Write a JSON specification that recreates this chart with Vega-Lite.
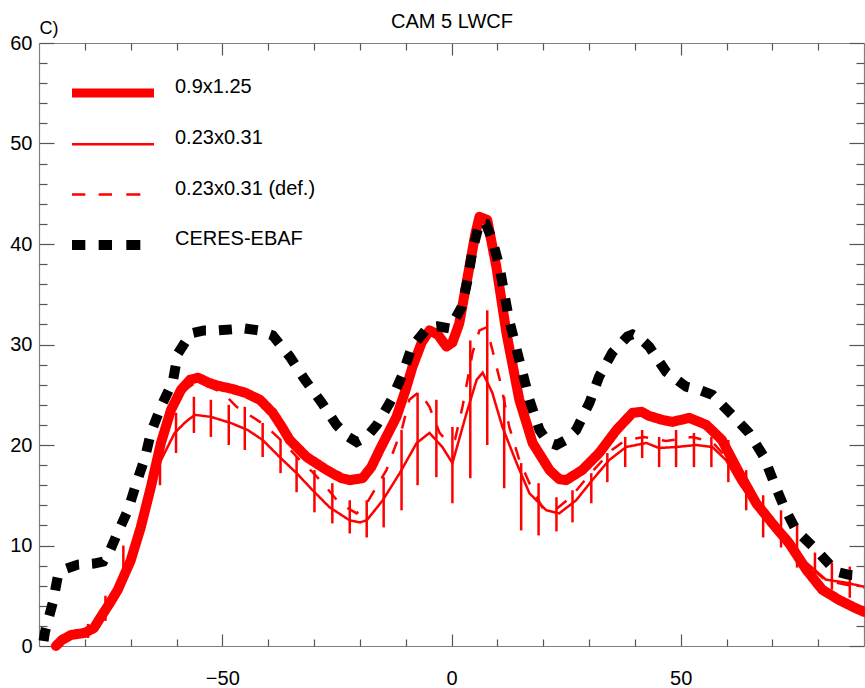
{
  "$schema": "https://vega.github.io/schema/vega-lite/v6.json",
  "width": 825,
  "height": 603,
  "autosize": {"type": "none"},
  "padding": {"left": 39, "top": 43, "right": 1, "bottom": 42},
  "background": "white",
  "config": {
    "view": {"stroke": null},
    "font": "Liberation Sans",
    "axis": {"grid": false, "domainColor": "#808080", "tickColor": "#555555", "domainWidth": 1.2, "tickWidth": 1.2, "title": null, "labelFont": "Liberation Sans", "labelColor": "black"}
  },
  "datasets": {
    "thick": [
      {"series":"0.9x1.25","lat":-86.3,"v":0.0},{"series":"0.9x1.25","lat":-85,"v":0.6},{"series":"0.9x1.25","lat":-83,"v":1.1},{"series":"0.9x1.25","lat":-80,"v":1.3},{"series":"0.9x1.25","lat":-78,"v":1.8},{"series":"0.9x1.25","lat":-76.5,"v":2.9},{"series":"0.9x1.25","lat":-74.5,"v":4.3},{"series":"0.9x1.25","lat":-72.8,"v":5.6},{"series":"0.9x1.25","lat":-70,"v":8.5},{"series":"0.9x1.25","lat":-67.8,"v":11.8},{"series":"0.9x1.25","lat":-65.6,"v":15.8},{"series":"0.9x1.25","lat":-63.4,"v":20.2},{"series":"0.9x1.25","lat":-61.2,"v":23.5},{"series":"0.9x1.25","lat":-59,"v":25.5},{"series":"0.9x1.25","lat":-57,"v":26.5},{"series":"0.9x1.25","lat":-55.3,"v":26.7},{"series":"0.9x1.25","lat":-53,"v":26.2},{"series":"0.9x1.25","lat":-51,"v":25.9},{"series":"0.9x1.25","lat":-48,"v":25.6},{"series":"0.9x1.25","lat":-45,"v":25.2},{"series":"0.9x1.25","lat":-41.8,"v":24.5},{"series":"0.9x1.25","lat":-39,"v":23.2},{"series":"0.9x1.25","lat":-37,"v":21.8},{"series":"0.9x1.25","lat":-35.3,"v":20.5},{"series":"0.9x1.25","lat":-31.6,"v":18.8},{"series":"0.9x1.25","lat":-27.2,"v":17.5},{"series":"0.9x1.25","lat":-24,"v":16.7},{"series":"0.9x1.25","lat":-22.2,"v":16.5},{"series":"0.9x1.25","lat":-19.4,"v":16.7},{"series":"0.9x1.25","lat":-17.5,"v":17.8},{"series":"0.9x1.25","lat":-15.7,"v":19.5},{"series":"0.9x1.25","lat":-12,"v":22.8},{"series":"0.9x1.25","lat":-10,"v":25.5},{"series":"0.9x1.25","lat":-8.5,"v":27.8},{"series":"0.9x1.25","lat":-6.5,"v":30.2},{"series":"0.9x1.25","lat":-4.8,"v":31.4},{"series":"0.9x1.25","lat":-3,"v":31.0},{"series":"0.9x1.25","lat":-1.1,"v":29.8},{"series":"0.9x1.25","lat":0.2,"v":30.2},{"series":"0.9x1.25","lat":1.7,"v":32.1},{"series":"0.9x1.25","lat":3.9,"v":37.7},{"series":"0.9x1.25","lat":5.2,"v":41.0},{"series":"0.9x1.25","lat":6.1,"v":42.7},{"series":"0.9x1.25","lat":7.8,"v":42.4},{"series":"0.9x1.25","lat":9.8,"v":37.7},{"series":"0.9x1.25","lat":12,"v":31.1},{"series":"0.9x1.25","lat":14.8,"v":24.5},{"series":"0.9x1.25","lat":17.7,"v":20.2},{"series":"0.9x1.25","lat":21.4,"v":17.5},{"series":"0.9x1.25","lat":23.5,"v":16.6},{"series":"0.9x1.25","lat":25,"v":16.5},{"series":"0.9x1.25","lat":28.5,"v":17.5},{"series":"0.9x1.25","lat":32.2,"v":19.2},{"series":"0.9x1.25","lat":36,"v":21.5},{"series":"0.9x1.25","lat":39.5,"v":23.2},{"series":"0.9x1.25","lat":41.5,"v":23.3},{"series":"0.9x1.25","lat":43.1,"v":22.9},{"series":"0.9x1.25","lat":46,"v":22.5},{"series":"0.9x1.25","lat":48.2,"v":22.3},{"series":"0.9x1.25","lat":51.9,"v":22.7},{"series":"0.9x1.25","lat":55.6,"v":22.0},{"series":"0.9x1.25","lat":59,"v":20.5},{"series":"0.9x1.25","lat":62.8,"v":17.2},{"series":"0.9x1.25","lat":66.5,"v":14.2},{"series":"0.9x1.25","lat":70,"v":12.2},{"series":"0.9x1.25","lat":73.7,"v":10.2},{"series":"0.9x1.25","lat":77.4,"v":7.6},{"series":"0.9x1.25","lat":80.9,"v":5.6},{"series":"0.9x1.25","lat":84.5,"v":4.6},{"series":"0.9x1.25","lat":88,"v":3.8},{"series":"0.9x1.25","lat":90,"v":3.4}
    ],
    "thin": [
      {"series":"0.23x0.31","lat":-86.3,"v":0.0},{"series":"0.23x0.31","lat":-83,"v":1.1},{"series":"0.23x0.31","lat":-80,"v":1.3},{"series":"0.23x0.31","lat":-76.5,"v":2.9},{"series":"0.23x0.31","lat":-72.8,"v":5.6},{"series":"0.23x0.31","lat":-70,"v":8.5},{"series":"0.23x0.31","lat":-67.8,"v":11.8},{"series":"0.23x0.31","lat":-65.6,"v":15.6},{"series":"0.23x0.31","lat":-63.6,"v":18.3},{"series":"0.23x0.31","lat":-60.4,"v":21.2},{"series":"0.23x0.31","lat":-58,"v":22.3},{"series":"0.23x0.31","lat":-56,"v":23.0},{"series":"0.23x0.31","lat":-52.5,"v":22.8},{"series":"0.23x0.31","lat":-48.2,"v":22.2},{"series":"0.23x0.31","lat":-44.5,"v":21.5},{"series":"0.23x0.31","lat":-41.2,"v":20.5},{"series":"0.23x0.31","lat":-37.5,"v":18.8},{"series":"0.23x0.31","lat":-33.8,"v":17.2},{"series":"0.23x0.31","lat":-30.3,"v":15.5},{"series":"0.23x0.31","lat":-26.6,"v":13.8},{"series":"0.23x0.31","lat":-22.2,"v":12.5},{"series":"0.23x0.31","lat":-20,"v":12.3},{"series":"0.23x0.31","lat":-18.5,"v":12.5},{"series":"0.23x0.31","lat":-15,"v":14.5},{"series":"0.23x0.31","lat":-11.3,"v":17.2},{"series":"0.23x0.31","lat":-7.6,"v":20.2},{"series":"0.23x0.31","lat":-4.8,"v":21.2},{"series":"0.23x0.31","lat":-2,"v":19.8},{"series":"0.23x0.31","lat":0.2,"v":18.2},{"series":"0.23x0.31","lat":3.3,"v":23.2},{"series":"0.23x0.31","lat":5.5,"v":26.5},{"series":"0.23x0.31","lat":6.8,"v":27.2},{"series":"0.23x0.31","lat":8.9,"v":25.2},{"series":"0.23x0.31","lat":11.1,"v":21.8},{"series":"0.23x0.31","lat":14.2,"v":18.2},{"series":"0.23x0.31","lat":17,"v":15.2},{"series":"0.23x0.31","lat":20.7,"v":13.5},{"series":"0.23x0.31","lat":23.5,"v":13.2},{"series":"0.23x0.31","lat":27.2,"v":14.5},{"series":"0.23x0.31","lat":30.7,"v":16.5},{"series":"0.23x0.31","lat":34.4,"v":18.5},{"series":"0.23x0.31","lat":38.1,"v":19.8},{"series":"0.23x0.31","lat":42.5,"v":20.2},{"series":"0.23x0.31","lat":45.3,"v":19.7},{"series":"0.23x0.31","lat":49,"v":19.8},{"series":"0.23x0.31","lat":53.4,"v":20.0},{"series":"0.23x0.31","lat":56.9,"v":19.8},{"series":"0.23x0.31","lat":59.9,"v":18.5},{"series":"0.23x0.31","lat":62.8,"v":16.2},{"series":"0.23x0.31","lat":66.5,"v":13.8},{"series":"0.23x0.31","lat":70,"v":12.5},{"series":"0.23x0.31","lat":73.7,"v":10.8},{"series":"0.23x0.31","lat":77.4,"v":8.3},{"series":"0.23x0.31","lat":81.7,"v":6.6},{"series":"0.23x0.31","lat":86.1,"v":6.3},{"series":"0.23x0.31","lat":90,"v":5.9}
    ],
    "def": [
      {"series":"0.23x0.31 (def.)","lat":-86.3,"v":0.0},{"series":"0.23x0.31 (def.)","lat":-83,"v":1.1},{"series":"0.23x0.31 (def.)","lat":-80,"v":1.3},{"series":"0.23x0.31 (def.)","lat":-76.5,"v":2.9},{"series":"0.23x0.31 (def.)","lat":-72.8,"v":5.6},{"series":"0.23x0.31 (def.)","lat":-70,"v":8.5},{"series":"0.23x0.31 (def.)","lat":-67.8,"v":11.8},{"series":"0.23x0.31 (def.)","lat":-65.6,"v":15.8},{"series":"0.23x0.31 (def.)","lat":-63.4,"v":20.0},{"series":"0.23x0.31 (def.)","lat":-61.2,"v":23.2},{"series":"0.23x0.31 (def.)","lat":-59,"v":25.2},{"series":"0.23x0.31 (def.)","lat":-55.6,"v":26.3},{"series":"0.23x0.31 (def.)","lat":-52,"v":25.6},{"series":"0.23x0.31 (def.)","lat":-49.9,"v":25.2},{"series":"0.23x0.31 (def.)","lat":-46.9,"v":23.8},{"series":"0.23x0.31 (def.)","lat":-41.8,"v":22.3},{"series":"0.23x0.31 (def.)","lat":-40.3,"v":21.8},{"series":"0.23x0.31 (def.)","lat":-36.8,"v":20.3},{"series":"0.23x0.31 (def.)","lat":-33.1,"v":18.5},{"series":"0.23x0.31 (def.)","lat":-30.3,"v":17.3},{"series":"0.23x0.31 (def.)","lat":-28.1,"v":16.2},{"series":"0.23x0.31 (def.)","lat":-24.4,"v":14.2},{"series":"0.23x0.31 (def.)","lat":-20.7,"v":13.2},{"series":"0.23x0.31 (def.)","lat":-18.5,"v":14.2},{"series":"0.23x0.31 (def.)","lat":-14.2,"v":17.5},{"series":"0.23x0.31 (def.)","lat":-10.7,"v":21.8},{"series":"0.23x0.31 (def.)","lat":-9.2,"v":24.5},{"series":"0.23x0.31 (def.)","lat":-7,"v":25.3},{"series":"0.23x0.31 (def.)","lat":-4.8,"v":23.8},{"series":"0.23x0.31 (def.)","lat":-2.6,"v":21.2},{"series":"0.23x0.31 (def.)","lat":-0.8,"v":20.3},{"series":"0.23x0.31 (def.)","lat":0.8,"v":20.6},{"series":"0.23x0.31 (def.)","lat":2.4,"v":23.8},{"series":"0.23x0.31 (def.)","lat":4.6,"v":29.2},{"series":"0.23x0.31 (def.)","lat":6.1,"v":31.4},{"series":"0.23x0.31 (def.)","lat":7.6,"v":31.7},{"series":"0.23x0.31 (def.)","lat":8.9,"v":29.5},{"series":"0.23x0.31 (def.)","lat":10.9,"v":25.8},{"series":"0.23x0.31 (def.)","lat":12.6,"v":21.8},{"series":"0.23x0.31 (def.)","lat":14.8,"v":18.5},{"series":"0.23x0.31 (def.)","lat":17,"v":16.2},{"series":"0.23x0.31 (def.)","lat":19.8,"v":13.8},{"series":"0.23x0.31 (def.)","lat":22.5,"v":13.5},{"series":"0.23x0.31 (def.)","lat":26,"v":14.8},{"series":"0.23x0.31 (def.)","lat":30,"v":17.0},{"series":"0.23x0.31 (def.)","lat":35,"v":19.5},{"series":"0.23x0.31 (def.)","lat":38,"v":20.5},{"series":"0.23x0.31 (def.)","lat":42,"v":20.8},{"series":"0.23x0.31 (def.)","lat":46.8,"v":20.4},{"series":"0.23x0.31 (def.)","lat":52.5,"v":20.8},{"series":"0.23x0.31 (def.)","lat":56.9,"v":20.3},{"series":"0.23x0.31 (def.)","lat":59.9,"v":18.8},{"series":"0.23x0.31 (def.)","lat":62.8,"v":16.5},{"series":"0.23x0.31 (def.)","lat":66.5,"v":14.0},{"series":"0.23x0.31 (def.)","lat":70,"v":12.5},{"series":"0.23x0.31 (def.)","lat":73.7,"v":10.6},{"series":"0.23x0.31 (def.)","lat":77.4,"v":8.2},{"series":"0.23x0.31 (def.)","lat":81.7,"v":6.5},{"series":"0.23x0.31 (def.)","lat":86.1,"v":6.1},{"series":"0.23x0.31 (def.)","lat":90,"v":5.8}
    ],
    "ceres": [
      {"series":"CERES-EBAF","lat":-89,"v":0.5},{"series":"CERES-EBAF","lat":-88.7,"v":1.4},{"series":"CERES-EBAF","lat":-87,"v":4.3},{"series":"CERES-EBAF","lat":-85.9,"v":6.9},{"series":"CERES-EBAF","lat":-84,"v":7.7},{"series":"CERES-EBAF","lat":-81.5,"v":8.1},{"series":"CERES-EBAF","lat":-78,"v":8.2},{"series":"CERES-EBAF","lat":-76,"v":8.4},{"series":"CERES-EBAF","lat":-74.5,"v":9.5},{"series":"CERES-EBAF","lat":-73.2,"v":10.9},{"series":"CERES-EBAF","lat":-70.6,"v":13.5},{"series":"CERES-EBAF","lat":-68.9,"v":16.0},{"series":"CERES-EBAF","lat":-66.9,"v":18.7},{"series":"CERES-EBAF","lat":-65.6,"v":21.2},{"series":"CERES-EBAF","lat":-63.4,"v":23.8},{"series":"CERES-EBAF","lat":-60.8,"v":26.3},{"series":"CERES-EBAF","lat":-59.7,"v":29.1},{"series":"CERES-EBAF","lat":-56.9,"v":31.1},{"series":"CERES-EBAF","lat":-54,"v":31.4},{"series":"CERES-EBAF","lat":-51,"v":31.4},{"series":"CERES-EBAF","lat":-45.1,"v":31.6},{"series":"CERES-EBAF","lat":-42,"v":31.4},{"series":"CERES-EBAF","lat":-39,"v":30.9},{"series":"CERES-EBAF","lat":-35.3,"v":28.8},{"series":"CERES-EBAF","lat":-32,"v":26.5},{"series":"CERES-EBAF","lat":-28.3,"v":24.2},{"series":"CERES-EBAF","lat":-25.1,"v":22.0},{"series":"CERES-EBAF","lat":-22.5,"v":20.8},{"series":"CERES-EBAF","lat":-20.7,"v":20.3},{"series":"CERES-EBAF","lat":-18.5,"v":20.8},{"series":"CERES-EBAF","lat":-16.3,"v":22.0},{"series":"CERES-EBAF","lat":-13.1,"v":24.5},{"series":"CERES-EBAF","lat":-10.7,"v":27.0},{"series":"CERES-EBAF","lat":-8.7,"v":29.7},{"series":"CERES-EBAF","lat":-5.2,"v":31.7},{"series":"CERES-EBAF","lat":-3,"v":31.8},{"series":"CERES-EBAF","lat":-0.4,"v":31.6},{"series":"CERES-EBAF","lat":2.2,"v":33.7},{"series":"CERES-EBAF","lat":3.5,"v":36.4},{"series":"CERES-EBAF","lat":4.6,"v":39.4},{"series":"CERES-EBAF","lat":6.1,"v":42.1},{"series":"CERES-EBAF","lat":7.5,"v":42.0},{"series":"CERES-EBAF","lat":8.9,"v":40.4},{"series":"CERES-EBAF","lat":10.5,"v":37.7},{"series":"CERES-EBAF","lat":11.5,"v":35.1},{"series":"CERES-EBAF","lat":12.6,"v":32.4},{"series":"CERES-EBAF","lat":14.2,"v":29.5},{"series":"CERES-EBAF","lat":15.5,"v":27.2},{"series":"CERES-EBAF","lat":17,"v":24.5},{"series":"CERES-EBAF","lat":19.2,"v":21.5},{"series":"CERES-EBAF","lat":21,"v":20.3},{"series":"CERES-EBAF","lat":22.9,"v":20.0},{"series":"CERES-EBAF","lat":25,"v":20.5},{"series":"CERES-EBAF","lat":27.2,"v":21.5},{"series":"CERES-EBAF","lat":30.1,"v":24.2},{"series":"CERES-EBAF","lat":32.2,"v":26.8},{"series":"CERES-EBAF","lat":35.1,"v":29.2},{"series":"CERES-EBAF","lat":38.4,"v":30.8},{"series":"CERES-EBAF","lat":39.5,"v":31.0},{"series":"CERES-EBAF","lat":41,"v":30.7},{"series":"CERES-EBAF","lat":43.1,"v":29.8},{"series":"CERES-EBAF","lat":46.8,"v":27.3},{"series":"CERES-EBAF","lat":51.2,"v":25.8},{"series":"CERES-EBAF","lat":54,"v":25.5},{"series":"CERES-EBAF","lat":56.9,"v":25.0},{"series":"CERES-EBAF","lat":61.2,"v":23.0},{"series":"CERES-EBAF","lat":64.9,"v":21.2},{"series":"CERES-EBAF","lat":68.2,"v":18.8},{"series":"CERES-EBAF","lat":70.4,"v":16.2},{"series":"CERES-EBAF","lat":72.6,"v":13.8},{"series":"CERES-EBAF","lat":75.2,"v":11.5},{"series":"CERES-EBAF","lat":79.5,"v":9.6},{"series":"CERES-EBAF","lat":83.9,"v":7.4},{"series":"CERES-EBAF","lat":86.5,"v":7.1},{"series":"CERES-EBAF","lat":90,"v":7.0}
    ],
    "bars": [
      {"lat":-79.3,"lo":0.8,"hi":2.2},{"lat":-75.5,"lo":2.5,"hi":5.0},{"lat":-71.6,"lo":6.0,"hi":10.0},{"lat":-67.8,"lo":10.5,"hi":13.0},{"lat":-63.6,"lo":16.0,"hi":20.0},{"lat":-60.1,"lo":19.2,"hi":23.2},{"lat":-56.2,"lo":21.2,"hi":24.8},{"lat":-52.5,"lo":20.8,"hi":24.5},{"lat":-48.6,"lo":20.0,"hi":24.0},{"lat":-45.1,"lo":19.5,"hi":23.8},{"lat":-41.2,"lo":18.8,"hi":22.2},{"lat":-37.3,"lo":17.2,"hi":20.5},{"lat":-33.8,"lo":15.3,"hi":18.8},{"lat":-29.9,"lo":13.3,"hi":17.5},{"lat":-26,"lo":12.2,"hi":16.2},{"lat":-22.2,"lo":11.2,"hi":14.5},{"lat":-18.5,"lo":10.8,"hi":14.5},{"lat":-14.8,"lo":11.8,"hi":16.8},{"lat":-10.9,"lo":13.5,"hi":21.5},{"lat":-7.4,"lo":16.0,"hi":25.2},{"lat":-3.3,"lo":16.8,"hi":24.5},{"lat":0.2,"lo":14.2,"hi":21.8},{"lat":4.1,"lo":16.7,"hi":30.4},{"lat":7.8,"lo":20.0,"hi":33.4},{"lat":11.5,"lo":15.7,"hi":24.8},{"lat":15.2,"lo":11.5,"hi":18.2},{"lat":19,"lo":11.0,"hi":16.2},{"lat":22.9,"lo":11.4,"hi":14.8},{"lat":26.4,"lo":12.3,"hi":15.5},{"lat":30.5,"lo":14.2,"hi":17.2},{"lat":34,"lo":16.3,"hi":19.2},{"lat":37.9,"lo":17.8,"hi":20.8},{"lat":41.6,"lo":18.7,"hi":21.5},{"lat":45.3,"lo":17.8,"hi":20.8},{"lat":49,"lo":17.8,"hi":21.5},{"lat":52.9,"lo":17.8,"hi":21.2},{"lat":56.7,"lo":17.8,"hi":20.8},{"lat":60.4,"lo":16.3,"hi":20.5},{"lat":64.3,"lo":13.5,"hi":17.5},{"lat":68,"lo":10.8,"hi":15.0},{"lat":71.9,"lo":9.8,"hi":13.5},{"lat":75.4,"lo":7.8,"hi":12.2},{"lat":79.3,"lo":5.9,"hi":9.3},{"lat":83,"lo":5.6,"hi":8.3},{"lat":86.9,"lo":4.8,"hi":7.9}
    ]
  },
  "resolve": {"axis": {"x": "independent", "y": "independent"}},
  "layer": [
    {
      "data": {"name": "thick"},
      "mark": {"type": "line", "strokeJoin": "round", "strokeCap": "round", "strokeWidth": 10},
      "encoding": {
        "x": {"field": "lat", "type": "quantitative", "scale": {"domain": [-90, 90], "nice": false, "zero": false},
              "axis": {"orient": "bottom", "values": [-50, 0, 50], "tickSize": -12, "labelPadding": 34, "labelFontSize": 20, "labelBaseline": "top", "domain": true}},
        "y": {"field": "v", "type": "quantitative", "scale": {"domain": [0, 60], "nice": false},
              "axis": {"orient": "left", "values": [0, 10, 20, 30, 40, 50, 60], "tickSize": -15, "labelPadding": 22, "labelFontSize": 20, "domain": true,
                       "title": "C)", "titleAngle": 0, "titleAlign": "left", "titleBaseline": "alphabetic", "titleX": 0, "titleY": -10, "titleFontSize": 18, "titleFontWeight": "normal", "titleFont": "Liberation Sans", "titleColor": "black"}},
        "color": {"field": "series", "type": "nominal",
                  "scale": {"domain": ["0.9x1.25", "0.23x0.31", "0.23x0.31 (def.)", "CERES-EBAF"], "range": ["#ff0000", "#ff0000", "#ff0000", "#000000"]},
                  "legend": {"title": null, "orient": "none", "legendX": 33, "legendY": 9, "symbolSize": 6724, "symbolStrokeWidth": 0, "labelFontSize": 20, "labelFont": "Liberation Sans", "labelColor": "black", "labelOffset": 21, "labelBaseline": "alphabetic", "rowPadding": 5.3,
                             "encode": {"symbols": {"update": {
                               "shape": {"signal": "datum.value === '0.9x1.25' ? 'M-1,-0.11H1V0.11H-1Z' : datum.value === '0.23x0.31' ? 'M-1,-0.03H1V0.03H-1Z' : datum.value === '0.23x0.31 (def.)' ? 'M-1,-0.03H-0.675V0.03H-1ZM-0.35,-0.03H-0.024V0.03H-0.35ZM0.325,-0.03H0.667V0.03H0.325Z' : 'M-1,-0.122H-0.675V0.122H-1ZM-0.35,-0.122H-0.024V0.122H-0.35ZM0.325,-0.122H0.667V0.122H0.325Z'"},
                               "fill": {"signal": "datum.value === 'CERES-EBAF' ? '#000000' : '#ff0000'"},
                               "fillOpacity": {"value": 1},
                               "opacity": {"value": 1}
                             }}}}},
        "strokeDash": {"field": "series", "type": "nominal",
                  "scale": {"domain": ["0.9x1.25", "0.23x0.31", "0.23x0.31 (def.)", "CERES-EBAF"], "range": [[1, 0], [1, 0], [13, 14], [13, 13]]}}
      }
    },
    {
      "data": {"name": "thin"},
      "mark": {"type": "line", "strokeWidth": 2.5},
      "encoding": {
        "x": {"field": "lat", "type": "quantitative",
              "axis": {"orient": "bottom", "values": [-80, -70, -60, -40, -30, -20, -10, 10, 20, 30, 40, 60, 70, 80], "tickSize": -7, "labels": false, "domain": false}},
        "y": {"field": "v", "type": "quantitative",
              "axis": {"orient": "left", "values": [2,4,6,8,12,14,16,18,22,24,26,28,32,34,36,38,42,44,46,48,52,54,56,58], "tickSize": -8, "labels": false, "domain": false}},
        "color": {"field": "series", "type": "nominal"},
        "strokeDash": {"field": "series", "type": "nominal"}
      }
    },
    {
      "data": {"name": "bars"},
      "mark": {"type": "rule", "color": "#ff0000", "strokeWidth": 2.5},
      "encoding": {
        "x": {"field": "lat", "type": "quantitative",
              "axis": {"orient": "top", "values": [-50, 0, 50], "tickSize": -12, "labels": false, "domain": true,
                       "title": "CAM 5 LWCF", "titleFontSize": 20, "titleFontWeight": "normal", "titleFont": "Liberation Sans", "titleColor": "black", "titleBaseline": "alphabetic", "titleY": -16}},
        "y": {"field": "lo", "type": "quantitative",
              "axis": {"orient": "right", "values": [0, 10, 20, 30, 40, 50, 60], "tickSize": -15, "labels": false, "domain": true}},
        "y2": {"field": "hi"}
      }
    },
    {
      "data": {"name": "def"},
      "mark": {"type": "line", "strokeWidth": 2.5},
      "encoding": {
        "x": {"field": "lat", "type": "quantitative",
              "axis": {"orient": "top", "values": [-80, -70, -60, -40, -30, -20, -10, 10, 20, 30, 40, 60, 70, 80], "tickSize": -7, "labels": false, "domain": false}},
        "y": {"field": "v", "type": "quantitative",
              "axis": {"orient": "right", "values": [2,4,6,8,12,14,16,18,22,24,26,28,32,34,36,38,42,44,46,48,52,54,56,58], "tickSize": -8, "labels": false, "domain": false}},
        "color": {"field": "series", "type": "nominal"},
        "strokeDash": {"field": "series", "type": "nominal"}
      }
    },
    {
      "data": {"name": "ceres"},
      "mark": {"type": "line", "strokeWidth": 10},
      "encoding": {
        "x": {"field": "lat", "type": "quantitative", "axis": null},
        "y": {"field": "v", "type": "quantitative", "axis": null},
        "color": {"field": "series", "type": "nominal"},
        "strokeDash": {"field": "series", "type": "nominal"}
      }
    }
  ]
}
